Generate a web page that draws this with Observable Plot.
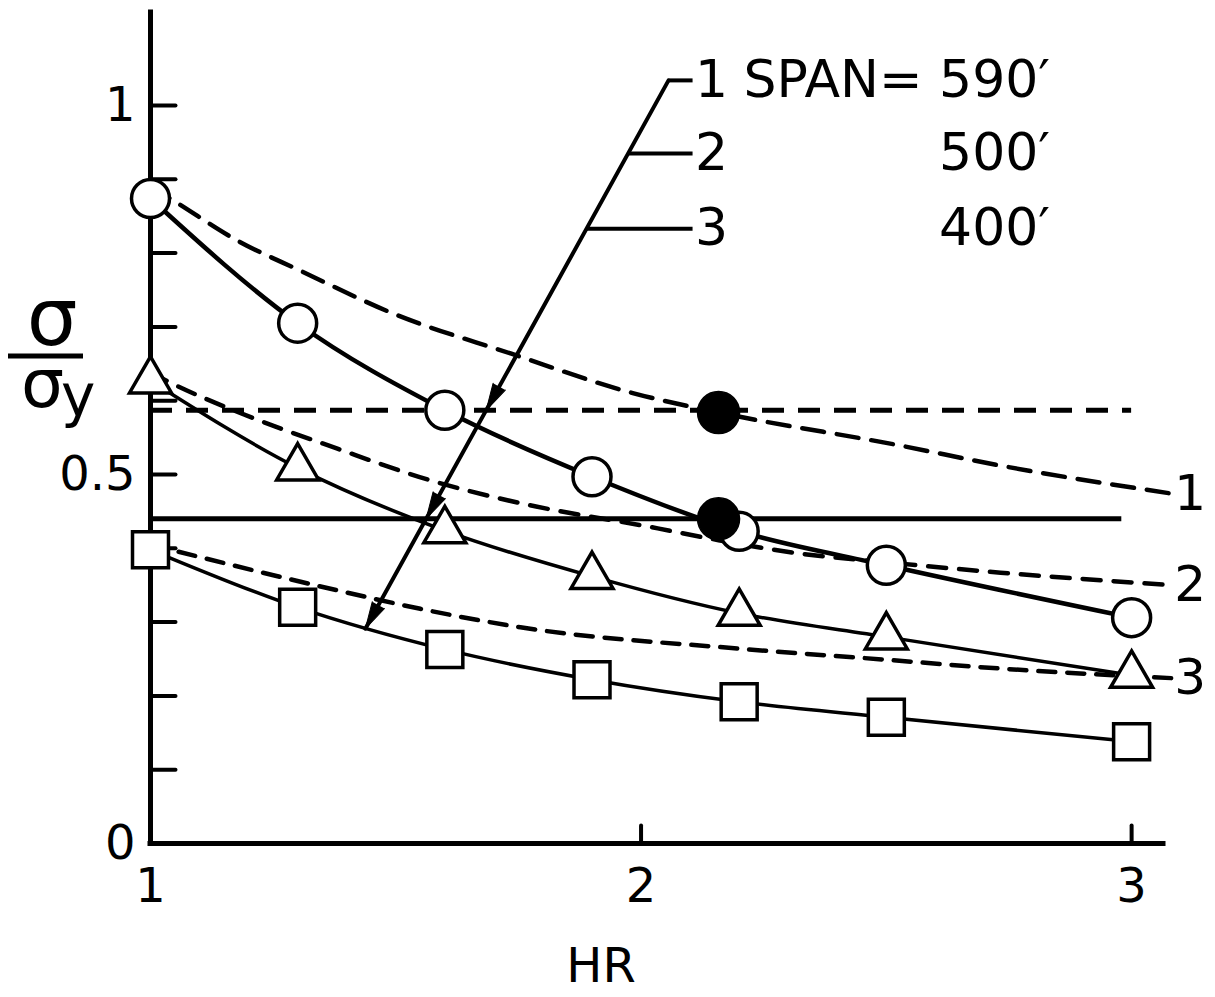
<!DOCTYPE html>
<html><head><meta charset="utf-8">
<script src="https://cdn.jsdelivr.net/npm/d3@7"></script>
<script src="https://cdn.jsdelivr.net/npm/@observablehq/plot@0.6"></script>
<style>html,body{margin:0;padding:0;background:#fff}</style>
</head><body><div id="chart"></div>
<script>
// ---- data ----
const hr = [1.0, 1.3, 1.6, 1.9, 2.2, 2.5, 3.0];
const circleY   = [0.874, 0.705, 0.587, 0.497, 0.423, 0.377, 0.306];
const triangleY = [0.627, 0.509, 0.424, 0.362, 0.312, 0.280, 0.228];
const squareY   = [0.398, 0.320, 0.263, 0.222, 0.192, 0.171, 0.138];

const curve1X = [1.0, 1.047, 1.177, 1.306, 1.495, 1.734, 1.985, 2.158, 2.53, 2.733, 3.083];
const curve1Y = [0.890, 0.871, 0.817, 0.776, 0.718, 0.664, 0.610, 0.584, 0.539, 0.512, 0.474];
const curve2X = [1.0, 1.051, 1.169, 1.381, 1.571, 1.748, 2.034, 2.158, 2.311, 2.5, 2.733, 3.083];
const curve2Y = [0.638, 0.621, 0.587, 0.535, 0.492, 0.462, 0.427, 0.411, 0.394, 0.381, 0.367, 0.350];
const curve3X = [1.0, 1.381, 1.55, 1.754, 2.2, 2.5, 2.733, 3.083];
const curve3Y = [0.405, 0.343, 0.318, 0.293, 0.264, 0.249, 0.237, 0.224];
const curveLabels = ["1", "2", "3"];

const dashedLevel = 0.587, dashedLevelEnd = 3.0;
const solidLevel = 0.440, solidLevelEnd = 2.98;
const filledX = [2.158, 2.158];
const filledY = [0.584, 0.440];

const diagX = [1.438, 2.056];
const diagY = [0.291, 1.034];
const leaderEndX = 2.105;
const leaderY = [1.034, 0.935, 0.833];
const spanNums = ["1", "2", "3"];
const spanNumX = 2.11;
const spanText = ["SPAN= 590′", "500′", "400′"];
const spanTextX = 2.834;

const yTickValues = [0.1, 0.2, 0.3, 0.4, 0.5, 0.6, 0.7, 0.8, 0.9, 1.0];
const yLabelValues = [0, 0.5, 1];
const xTickValues = [2, 3];
const xLabelValues = [1, 2, 3];
const xTitle = "HR";
const yTitleNum = "σ", yTitleDen = "σ", yTitleSub = "y";

// ---- layout ----
const W = 1215, H = 997;
const mL = 150, mR = 52, mT = 12, mB = 154;
const xDomain = [1, 3.065], yDomain = [0, 1.126];
const kx = (W - mL - mR) / (xDomain[1] - xDomain[0]);
const ky = (H - mT - mB) / (yDomain[1] - yDomain[0]);

const pts = (xs, ys) => xs.map((x, i) => ({x, y: ys[i]}));
const circles = pts(hr, circleY), triangles = pts(hr, triangleY), squares = pts(hr, squareY);
const c1 = pts(curve1X, curve1Y), c2 = pts(curve2X, curve2Y), c3 = pts(curve3X, curve3Y);
const curveEnds = [c1, c2, c3].map((c, i) => ({x: c[c.length - 1].x, y: c[c.length - 1].y, t: curveLabels[i]}));
const diagXAt = y => diagX[0] + (y - diagY[0]) * (diagX[1] - diagX[0]) / (diagY[1] - diagY[0]);
const leaders = leaderY.map(y => ({x1: diagXAt(y), x2: leaderEndX, y}));
const arrowAngle = Math.atan2((diagX[0] - diagX[1]) * kx, (diagY[0] - diagY[1]) * ky) * 180 / Math.PI;
const arrows = [dashedLevel, solidLevel, diagY[0]].map(y => ({x: diagXAt(y), y}));
const spans = leaderY.map((y, i) => ({y, n: spanNums[i], t: spanText[i]}));

const tickShape = {draw(ctx, l) { ctx.moveTo(0, 0); ctx.lineTo(0, -l); }};
const FONT = "DejaVu Sans";

const plot = Plot.plot({
  width: W, height: H,
  marginLeft: mL, marginRight: mR, marginTop: mT, marginBottom: mB,
  x: {domain: xDomain}, y: {domain: yDomain},
  style: {fontFamily: FONT, background: "white", color: "black"},
  marks: [
    Plot.axisY(yLabelValues, {tickSize: 0, tickPadding: 15, fontSize: 48, label: null,
      tickFormat: d => String(d)}),
    Plot.axisX(xLabelValues, {tickSize: 0, tickPadding: 24, fontSize: 48, label: null,
      tickFormat: d => String(d)}),
    Plot.text([xTitle], {frameAnchor: "bottom", dx: -56, dy: 123, fontSize: 48, lineAnchor: "middle"}),
    // axes
    Plot.ruleX([xDomain[0]], {strokeWidth: 5, strokeLinecap: "square"}),
    Plot.ruleY([yDomain[0]], {strokeWidth: 5, strokeLinecap: "square"}),
    Plot.vector(yTickValues, {x: xDomain[0], y: d => d, rotate: 90, length: 25, anchor: "start",
      shape: tickShape, stroke: "black", fill: "none", strokeWidth: 4}),
    Plot.vector(xTickValues, {x: d => d, y: yDomain[0], rotate: 0, length: 18, anchor: "start",
      shape: tickShape, stroke: "black", fill: "none", strokeWidth: 4}),
    // horizontal levels
    Plot.ruleY([dashedLevel], {x1: xDomain[0], x2: dashedLevelEnd, strokeWidth: 5, strokeDasharray: "22,14"}),
    Plot.ruleY([solidLevel], {x1: xDomain[0], x2: solidLevelEnd, strokeWidth: 5}),
    // dashed curves
    Plot.line(c1, {x: "x", y: "y", curve: "monotone-x", strokeWidth: 4.5, strokeDasharray: "22,13"}),
    Plot.line(c2, {x: "x", y: "y", curve: "monotone-x", strokeWidth: 4.5, strokeDasharray: "18,13"}),
    Plot.line(c3, {x: "x", y: "y", curve: "monotone-x", strokeWidth: 4.5, strokeDasharray: "17,12"}),
    Plot.text(curveEnds, {x: "x", y: "y", text: "t", textAnchor: "start", dx: 2, fontSize: 50}),
    // solid curves
    Plot.line(circles, {x: "x", y: "y", curve: "monotone-x", strokeWidth: 4.5}),
    Plot.line(triangles, {x: "x", y: "y", curve: "monotone-x", strokeWidth: 3.5}),
    Plot.line(squares, {x: "x", y: "y", curve: "monotone-x", strokeWidth: 3.5}),
    // diagonal pointer with leaders
    Plot.line(pts(diagX, diagY), {x: "x", y: "y", strokeWidth: 4}),
    Plot.link(leaders, {x1: "x1", x2: "x2", y1: "y", y2: "y", strokeWidth: 4}),
    Plot.vector(arrows, {x: "x", y: "y", rotate: arrowAngle, length: 27, r: 7, shape: "spike",
      anchor: "end", fill: "black", stroke: "black", strokeWidth: 1}),
    Plot.text(spans, {x: spanNumX, y: "y", text: "n", textAnchor: "start", fontSize: 52}),
    Plot.text(spans, {x: spanTextX, y: "y", text: "t", textAnchor: "end", fontSize: 52}),
    // markers
    Plot.dot(circles, {x: "x", y: "y", r: 19, fill: "white", stroke: "black", strokeWidth: 3.5}),
    Plot.dot(triangles, {x: "x", y: "y", r: 15.6, symbol: "triangle", fill: "white", stroke: "black", strokeWidth: 3.5}),
    Plot.dot(squares, {x: "x", y: "y", r: 20.3, symbol: "square", fill: "white", stroke: "black", strokeWidth: 3.5}),
    Plot.dot(pts(filledX, filledY), {x: "x", y: "y", r: 21, fill: "black", stroke: "black"})
  ]
});

// y-axis title: stacked fraction σ / σy, as one text element
const svg = d3.select(plot);
const g = svg.append("g").attr("font-family", FONT).attr("fill", "black");
const t = g.append("text").attr("text-anchor", "start");
t.append("tspan").attr("x", 52).attr("y", 345).attr("text-anchor", "middle").attr("font-size", 80).text(yTitleNum);
t.append("tspan").attr("x", 21).attr("y", 407).attr("text-anchor", "start").attr("font-size", 68).text(yTitleDen);
t.append("tspan").attr("x", 61).attr("y", 416).attr("text-anchor", "start").attr("font-size", 58).text(yTitleSub);
g.append("line").attr("x1", 8).attr("x2", 83).attr("y1", 356).attr("y2", 356)
  .attr("stroke", "black").attr("stroke-width", 5);

document.getElementById("chart").appendChild(plot);
</script>
</body></html>
